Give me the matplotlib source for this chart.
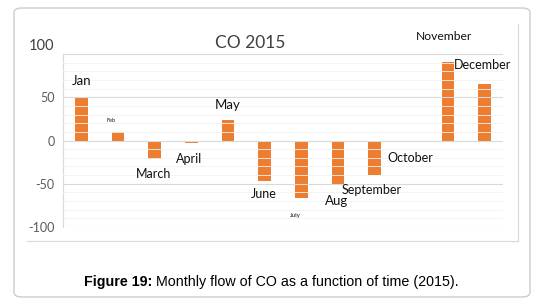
import matplotlib
matplotlib.use("Agg")
import matplotlib.pyplot as plt
from matplotlib.patches import FancyBboxPatch
import numpy as np

months = ["Jan", "Feb", "March", "April", "May", "June", "July", "Aug",
          "September", "October", "November", "December"]
flow = [50, 10, -21, -3, 24, -47, -66, -50, -40, -2, 91, 65]

# where each month label sits (category offset, y value) and its size
lab_x = [0.0, 0.81, 1.98, 2.94, 4.0, 4.98, 5.85, 6.97, 7.93, 8.96, 9.89, 10.95]
lab_y = [69, 23, -39, -21, 40.5, -62, -87, -70.5, -57, -20, 120, 87]
lab_size = [9.5, 4, 9, 9, 9.5, 9, 4.5, 9.5, 9, 9, 8.7, 9]

yticks = [-100, -50, 0, 50]

plt.rcParams['font.family'] = ['Lato', 'DejaVu Sans']

W, H = 543, 308
fig = plt.figure(figsize=(W / 100, H / 100), dpi=100)

# outer rounded frame
frame = FancyBboxPatch((14 / W, 11 / H), 516 / W, 289 / H,
                       boxstyle="round,pad=0,rounding_size=0.015",
                       transform=fig.transFigure, fill=False,
                       edgecolor="#cccccc", linewidth=1.0)
fig.patches.append(frame)
# inner chart border (right and bottom)
fig.add_artist(plt.Line2D([518 / W, 518 / W], [1 - 24 / H, 1 - 241 / H],
                          transform=fig.transFigure, color="#d9d9d9", lw=0.8))
fig.add_artist(plt.Line2D([27 / W, 518 / W], [1 - 241 / H, 1 - 241 / H],
                          transform=fig.transFigure, color="#d9d9d9", lw=0.8))

ax = fig.add_axes([63 / W, 1 - 227 / H, 440 / W, 173 / H])
x = np.arange(len(months))
ax.bar(x, flow, width=0.34, color="#ED7D31", zorder=2)
ax.set_xlim(-0.5, 11.5)
ax.set_ylim(-100, 100)

# gridlines drawn over the bars, like the original
for v in range(-90, 100, 10):
    if v % 50 == 0:
        ax.axhline(v, color="#d9d9d9", lw=0.8, zorder=3)
    else:
        ax.axhline(v, color="#f3f3f3", lw=0.6, zorder=3)
ax.axhline(100, color="#d9d9d9", lw=0.8, zorder=3)
ax.axhline(-100, color="#d9d9d9", lw=0.8, zorder=3)

for s in ["top", "right", "bottom"]:
    ax.spines[s].set_visible(False)
ax.spines["left"].set_color("#d9d9d9")
ax.spines["left"].set_linewidth(0.8)
ax.set_xticks([])
ax.set_yticks(yticks)
ax.set_yticklabels([str(t) for t in yticks], color="#595959", fontsize=9)
ax.tick_params(axis="y", length=0, pad=6)
ax.text(-0.02, 1.045, "100", transform=ax.transAxes, ha="right", va="center",
        fontsize=10.5, color="#404040")

for i, m in enumerate(months):
    ax.text(lab_x[i], lab_y[i], m, ha="center", va="center",
            fontsize=lab_size[i], color="#111111", clip_on=False, zorder=4)

fig.text(250 / W, 1 - 43 / H, "CO 2015", ha="center", va="center",
         fontsize=12.5, color="#404040")

# caption: bold part + normal part, centred together
cy = 1 - 282 / H
b = fig.text(0, cy, "Figure 19:", ha="left", va="center",
             fontsize=10.3, fontweight="bold", family="Liberation Sans")
n = fig.text(0, cy, " Monthly flow of CO as a function of time (2015).",
             ha="left", va="center", fontsize=10.3, family="Liberation Sans")
r = fig.canvas.get_renderer()
wb = b.get_window_extent(r).width
wn = n.get_window_extent(r).width
x0 = 271 - (wb + wn) / 2
b.set_x(x0 / W)
n.set_x((x0 + wb) / W)

fig.savefig("out.png", dpi=100)
